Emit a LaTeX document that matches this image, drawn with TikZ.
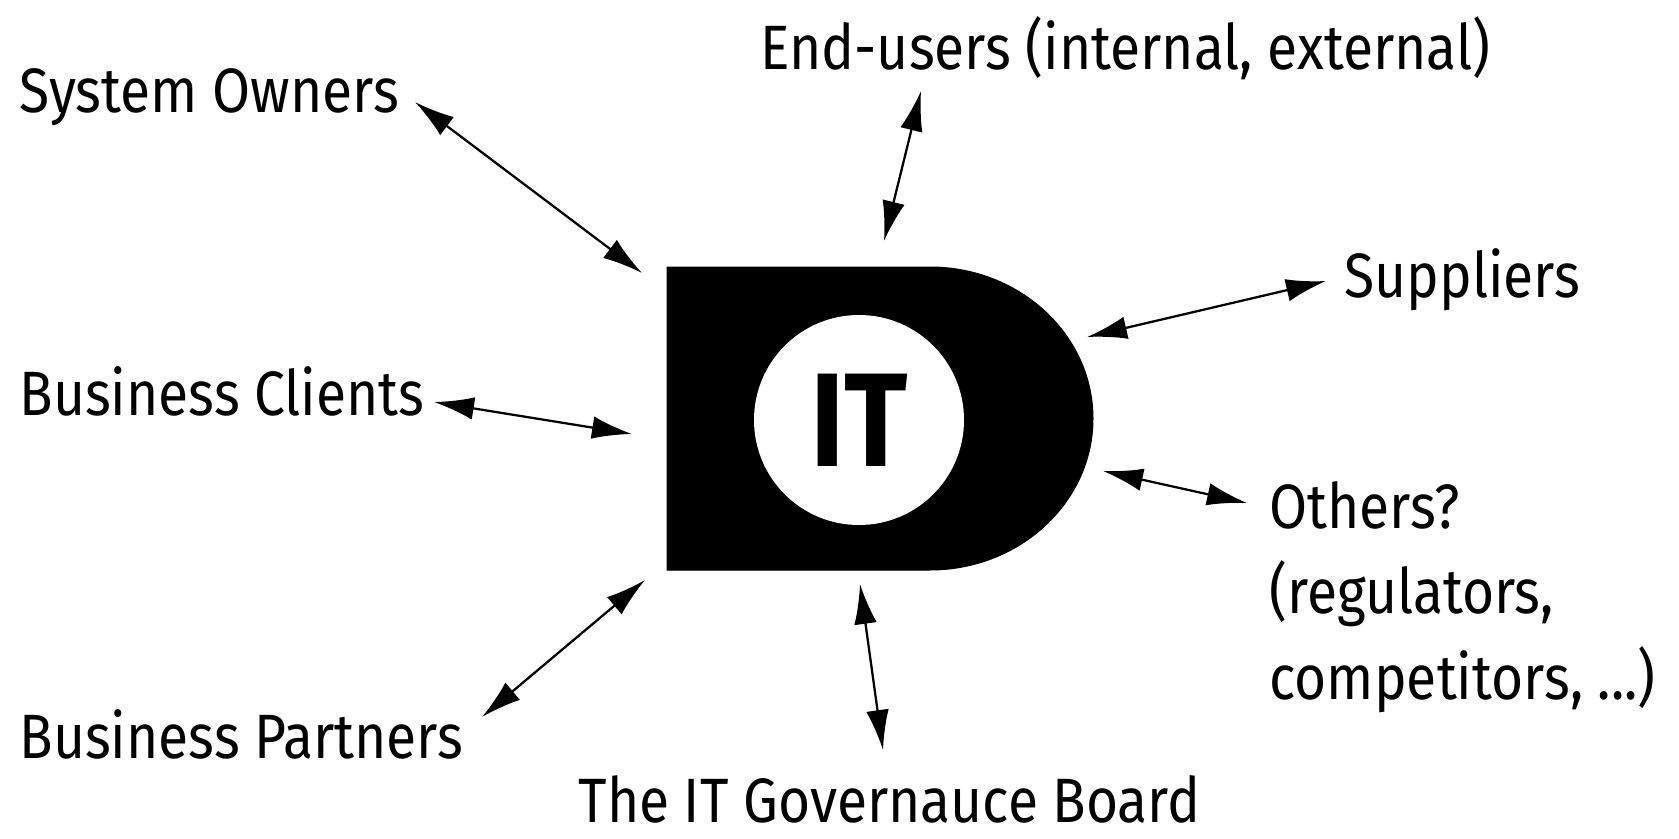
\documentclass[tikz,border=0pt]{standalone}
\usepackage{fontspec}
\setmainfont[FakeStretch=0.88]{Fira Sans}
\usetikzlibrary{arrows.meta}

\tikzset{every picture/.style={line width=0.75pt}}
\tikzset{
  lbl/.style={font=\fontsize{47}{64}\selectfont, inner sep=0pt, anchor=base west},
  link/.style={{Latex[length=30pt,width=17pt]}-{Latex[length=30pt,width=17pt]}, line width=1.7pt},
}

\begin{document}
\begin{tikzpicture}[x=0.75pt,y=0.75pt,yscale=-1,xscale=1]
	\useasboundingbox (0,0) rectangle (1679,839);

	%Shape: D block
	\draw [fill=black] (667,267) -- (930,267) .. controls (1020,267) and (1093,335) .. (1093,418.5) .. controls (1093,502) and (1020,570) .. (930,570) -- (667,570) -- cycle ;
	%Shape: Circle with IT
	\node (it) [circle, fill=white, inner sep=0pt, minimum size=157.5pt, font=\fontsize{100}{110}\bfseries] at (859,420) {IT};

	% Text Node
	\node (sysown) [lbl] at (19,112) {System Owners};
	% Text Node
	\node (endusr) [lbl] at (760,69) {End-users (internal, external)};
	% Text Node
	\node (suppl) [lbl] at (1344,297) {Suppliers};
	% Text Node
	\node (bizcli) [lbl] at (19,415) {Business Clients};
	% Text Node
	\node (others) [lbl, anchor=west, align=left] at (1269,597) {Others?\\(regulators,\\competitors, ...)};
	% Text Node
	\node (bizpar) [lbl] at (19,758) {Business Partners};
	% Text Node
	\node (board) [lbl] at (578,822) {The IT Governauce Board};

	%Arrow ends
	\coordinate (sysown-o) at (415,102);  \coordinate (sysown-i) at (642,273);
	\coordinate (endusr-o) at (921,91);   \coordinate (endusr-i) at (884,241);
	\coordinate (suppl-o) at (1326,281);  \coordinate (suppl-i) at (1087,337);
	\coordinate (bizcli-o) at (434,402);  \coordinate (bizcli-i) at (632,434);
	\coordinate (others-o) at (1247,503); \coordinate (others-i) at (1103,471);
	\coordinate (bizpar-o) at (482,717);  \coordinate (bizpar-i) at (645,580);
	\coordinate (board-o) at (883,750);   \coordinate (board-i) at (860,584);

	%Straight Lines
	\draw [link] (sysown-o) -- (sysown-i) ;
	\draw [link] (endusr-o) -- (endusr-i) ;
	\draw [link] (suppl-o) -- (suppl-i) ;
	\draw [link] (bizcli-o) -- (bizcli-i) ;
	\draw [link] (others-o) -- (others-i) ;
	\draw [link] (bizpar-o) -- (bizpar-i) ;
	\draw [link] (board-o) -- (board-i) ;

\end{tikzpicture}
\end{document}
